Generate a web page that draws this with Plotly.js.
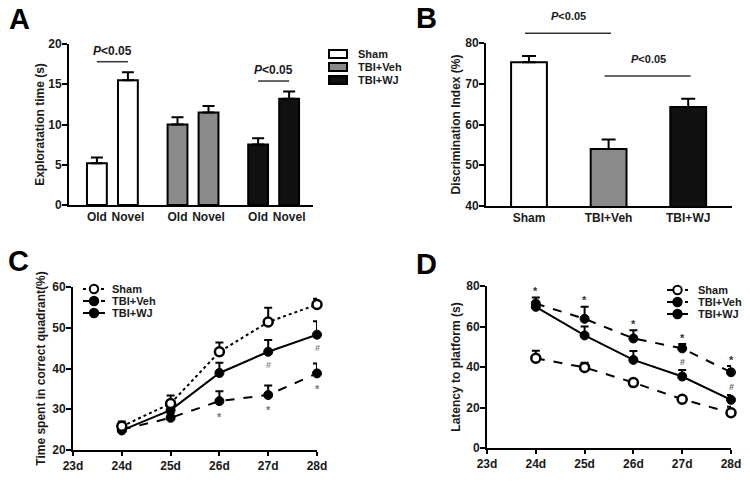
<!DOCTYPE html>
<html><head><meta charset="utf-8">
<script src="https://cdn.plot.ly/plotly-3.0.1.min.js"></script>
<style>html,body{margin:0;padding:0;background:#fff}#chart{width:750px;height:484px}</style>
</head><body><div id="chart"></div>
<script>
// ---------- Panel A data ----------
const aGroups = ['Sham', 'TBI+Veh', 'TBI+WJ'];
const aConds = ['Old', 'Novel'];
const aShamMean = [5.2, 15.5];
const aShamErr = [0.7, 1.0];
const aVehMean = [10.0, 11.5];
const aVehErr = [0.9, 0.8];
const aWjMean = [7.5, 13.2];
const aWjErr = [0.8, 0.9];
// ---------- Panel B data ----------
const bCats = ['Sham', 'TBI+Veh', 'TBI+WJ'];
const bMean = [75.3, 54.0, 64.3];
const bErr = [1.5, 2.3, 2.0];
// ---------- Panel C / D shared ----------
const days = [24, 25, 26, 27, 28];
const dayTickVals = [23, 24, 25, 26, 27, 28];
const dayTickText = ['23d', '24d', '25d', '26d', '27d', '28d'];
const seriesNames = ['Sham', 'TBI+Veh', 'TBI+WJ'];
// ---------- Panel C data ----------
const cShamMean = [25.8, 31.4, 44.1, 51.4, 55.7];
const cShamErr = [1.2, 2.0, 2.3, 3.5, 1.4];
const cVehMean = [25.0, 27.9, 32.0, 33.5, 38.8];
const cVehErr = [1.3, 1.0, 2.4, 2.3, 2.4];
const cWjMean = [24.8, 29.8, 38.9, 44.1, 48.3];
const cWjErr = [1.5, 2.0, 2.5, 2.9, 3.3];
const cStarDays = [26, 27, 28];
const cHashDays = [27, 28];
// ---------- Panel D data ----------
const dShamMean = [44.3, 39.8, 32.3, 24.1, 17.4];
const dShamErr = [3.7, 2.3, 1.3, 1.0, 3.0];
const dVehMean = [71.3, 63.8, 54.1, 49.2, 37.4];
const dVehErr = [3.0, 5.9, 4.1, 2.1, 3.1];
const dWjMean = [69.7, 55.6, 43.5, 35.3, 23.8];
const dWjErr = [2.5, 4.4, 4.4, 3.2, 2.4];
const dStarDays = [24, 25, 26, 27, 28];
const dHashDays = [27, 28];
const sigText = 'P<0.05';

// ---------- styling helpers ----------
const FAM = 'Liberation Sans, Arial, sans-serif';
const W = 750, H = 484;
const X = p => p / W;
const Y = p => 1 - p / H;
const tickFont = {family: FAM, size: 12, color: '#1a1a1a', weight: 'bold'};
const titleFont = {family: FAM, size: 12, color: '#1a1a1a', weight: 'bold'};
const colors = {'Sham': '#ffffff', 'TBI+Veh': '#8a8a8a', 'TBI+WJ': '#111111'};
const upErr = (err, w) => ({type: 'data', symmetric: false, array: err, arrayminus: err.map(() => 0),
  color: '#000', thickness: 2, width: w});

const GROUP_STEP = 2.6;
const aPos = g => aConds.map((c, i) => g * GROUP_STEP + i);
const aMeans = [aShamMean, aVehMean, aWjMean];
const aErrs = [aShamErr, aVehErr, aWjErr];

const traces = [];
aGroups.forEach((g, gi) => {
  traces.push({type: 'bar', x: aPos(gi), y: aMeans[gi], width: 0.64, name: g,
    marker: {color: colors[g], line: {color: '#000', width: 2}},
    error_y: upErr(aErrs[gi], 6), xaxis: 'x', yaxis: 'y', showlegend: false, hoverinfo: 'y'});
});
traces.push({type: 'bar', x: bCats.map((c, i) => i), y: bMean, width: 0.45,
  marker: {color: bCats.map(c => colors[c]), line: {color: '#000', width: 2}},
  error_y: upErr(bErr, 7), xaxis: 'x2', yaxis: 'y2', showlegend: false});

function lineTrace(x, y, err, dash, open, xa, ya, name) {
  return {type: 'scatter', mode: 'lines+markers', x: x, y: y, name: name, xaxis: xa, yaxis: ya,
    line: {color: '#000', width: 2, dash: dash},
    marker: {symbol: 'circle', size: 9, color: open ? '#fff' : '#000', line: {color: '#000', width: open ? 2.5 : 1}},
    error_y: upErr(err, 4), cliponaxis: false, showlegend: false};
}
traces.push(lineTrace(days, cVehMean, cVehErr, 'dash', false, 'x3', 'y3', 'TBI+Veh'));
traces.push(lineTrace(days, cWjMean, cWjErr, 'solid', false, 'x3', 'y3', 'TBI+WJ'));
traces.push(lineTrace(days, cShamMean, cShamErr, 'dot', true, 'x3', 'y3', 'Sham'));
traces.push(lineTrace(days, dVehMean, dVehErr, 'dash', false, 'x4', 'y4', 'TBI+Veh'));
traces.push(lineTrace(days, dWjMean, dWjErr, 'solid', false, 'x4', 'y4', 'TBI+WJ'));
traces.push(lineTrace(days, dShamMean, dShamErr, 'dash', true, 'x4', 'y4', 'Sham'));

// ---------- axes ----------
const baseAx = {showline: true, linewidth: 2, linecolor: '#000', showgrid: false, zeroline: false,
  tickfont: tickFont, fixedrange: true, ticks: 'outside', ticklen: 5, tickwidth: 2, tickcolor: '#000'};
const yExtra = {ticklabelstandoff: -2};
const layoutAxes = {
  xaxis: Object.assign({}, baseAx, {domain: [X(69), X(313)], range: [-0.9, 2 * GROUP_STEP + 1 + 0.77], anchor: 'y',
    tickvals: aGroups.flatMap((g, gi) => aPos(gi)), ticktext: aGroups.flatMap(() => aConds), ticks: ''}),
  yaxis: Object.assign({}, baseAx, yExtra, {domain: [Y(205), Y(44)], range: [0, 20], dtick: 5, anchor: 'x',
    title: {text: 'Exploratation time (s)', font: titleFont, standoff: 1}}),
  xaxis2: Object.assign({}, baseAx, {domain: [X(486), X(732)], range: [-0.54, 2.55], anchor: 'y2',
    tickvals: bCats.map((c, i) => i), ticktext: bCats, ticks: ''}),
  yaxis2: Object.assign({}, baseAx, yExtra, {domain: [Y(206), Y(43)], range: [40, 80], dtick: 10, anchor: 'x2',
    title: {text: 'Discrimination Index (%)', font: titleFont, standoff: 2}}),
  xaxis3: Object.assign({}, baseAx, {domain: [X(73), X(317)], range: [23, 28], anchor: 'y3',
    tickvals: dayTickVals, ticktext: dayTickText, ticklen: 4}),
  yaxis3: Object.assign({}, baseAx, yExtra, {domain: [Y(450), Y(287)], range: [20, 60], dtick: 10, anchor: 'x3',
    title: {text: 'Time spent in correct quadrant(%)', font: titleFont, standoff: 4}}),
  xaxis4: Object.assign({}, baseAx, {domain: [X(487), X(731)], range: [23, 28], anchor: 'y4',
    tickvals: dayTickVals, ticktext: dayTickText, ticklen: 4}),
  yaxis4: Object.assign({}, baseAx, yExtra, {domain: [Y(448), Y(286)], range: [0, 80], dtick: 20, anchor: 'x4',
    title: {text: 'Latency to platform (s)', font: titleFont, standoff: 3}}),
};

// ---------- annotations & shapes ----------
const shapes = [];
const annotations = [];
const sigFontA = {family: FAM, size: 12, color: '#1a1a1a', weight: 'bold'};
const sigFontB = {family: FAM, size: 11, color: '#1a1a1a', weight: 'bold'};
const sigLabel = '<i>P</i>' + sigText.slice(1).replace('<', '&lt;');

// Panel A significance: pairs within Sham and TBI+WJ
[0, 2].forEach(gi => {
  const pos = aPos(gi);
  const top = Math.max(...aMeans[gi].map((m, i) => m + aErrs[gi][i]));
  const yy = top + 1.3;
  shapes.push({type: 'line', xref: 'x', yref: 'y', x0: pos[0], x1: pos[1], y0: yy, y1: yy,
    line: {color: '#333', width: 1.5}});
  annotations.push({xref: 'x', yref: 'y', x: (pos[0] + pos[1]) / 2, y: yy, text: sigLabel, showarrow: false,
    yanchor: 'bottom', yshift: 2, font: sigFontA});
});
// Panel B significance (line may lie above the axis top, so map to paper)
const yb = layoutAxes.yaxis2;
const bToPaper = v => yb.domain[0] + (v - yb.range[0]) / (yb.range[1] - yb.range[0]) * (yb.domain[1] - yb.domain[0]);
[[0, 1], [1, 2]].forEach(([i, j]) => {
  const top = Math.max(bMean[i] + bErr[i], bMean[j] + bErr[j]);
  const yy = bToPaper(top + 5.6);
  shapes.push({type: 'line', xref: 'x2', yref: 'paper', x0: i - 0.05, x1: j + 0.03, y0: yy, y1: yy,
    line: {color: '#333', width: 1.5}});
  annotations.push({xref: 'x2', yref: 'paper', x: (i + j) / 2, y: yy, text: sigLabel, showarrow: false,
    yanchor: 'bottom', yshift: 9, font: sigFontB});
});
// Panel C marks: below points
const markFont = (c, s) => ({family: FAM, size: s, color: c, weight: 'bold'});
cStarDays.forEach(d => {
  const k = days.indexOf(d);
  annotations.push({xref: 'x3', yref: 'y3', x: d, y: cVehMean[k] - 3.8, text: '*', showarrow: false,
    yanchor: 'middle', font: markFont('#777', 11)});
});
cHashDays.forEach(d => {
  const k = days.indexOf(d);
  annotations.push({xref: 'x3', yref: 'y3', x: d, y: cWjMean[k] - 3.3, text: '#', showarrow: false,
    yanchor: 'middle', font: markFont('#888', 9)});
});
// Panel D marks: above error bars
dStarDays.forEach(d => {
  const k = days.indexOf(d);
  annotations.push({xref: 'x4', yref: 'y4', x: d, y: dVehMean[k] + dVehErr[k] + 3.2, text: '*', showarrow: false,
    yanchor: 'middle', font: markFont('#333', 11)});
});
dHashDays.forEach(d => {
  const k = days.indexOf(d);
  annotations.push({xref: 'x4', yref: 'y4', x: d, y: dWjMean[k] + dWjErr[k] + 3.8, text: '#', showarrow: false,
    yanchor: 'middle', font: markFont('#666', 9)});
});

// Panel letters
[['A', 7, 19], ['B', 414, 18], ['C', 6, 261], ['D', 414, 264]].forEach(([t, x, y]) => {
  annotations.push({xref: 'paper', yref: 'paper', x: X(x), y: Y(y), text: t, showarrow: false,
    xanchor: 'left', yanchor: 'middle', font: {family: FAM, size: 29, color: '#000', weight: 'bold'}});
});

// Legend A (boxes)
const legFont = {family: FAM, size: 11, color: '#1a1a1a', weight: 'bold'};
const aLegRows = [54, 67, 80];
aGroups.forEach((g, i) => {
  const yc = aLegRows[i];
  shapes.push({type: 'rect', xref: 'paper', yref: 'paper', x0: X(329), x1: X(347), y0: Y(yc + 4), y1: Y(yc - 4),
    fillcolor: colors[g], line: {color: '#000', width: 2}});
  annotations.push({xref: 'paper', yref: 'paper', x: X(356), y: Y(yc), text: g, showarrow: false,
    xanchor: 'left', yanchor: 'middle', font: legFont});
});
// Legends C and D (line + marker)
function lineLegend(x0, x1, textX, rows, dashes) {
  seriesNames.forEach((s, i) => {
    const yc = rows[i];
    shapes.push({type: 'line', xref: 'paper', yref: 'paper', x0: X(x0), x1: X(x1), y0: Y(yc), y1: Y(yc),
      line: {color: '#000', width: 2, dash: dashes[i]}});
    const open = s === 'Sham';
    shapes.push({type: 'circle', xref: 'paper', yref: 'paper', xsizemode: 'pixel', ysizemode: 'pixel',
      xanchor: X((x0 + x1) / 2), yanchor: Y(yc), x0: -4.2, x1: 4.2, y0: -4.2, y1: 4.2,
      fillcolor: open ? '#fff' : '#000', line: {color: '#000', width: 2}});
    annotations.push({xref: 'paper', yref: 'paper', x: X(textX), y: Y(yc), text: s, showarrow: false,
      xanchor: 'left', yanchor: 'middle', font: legFont});
  });
}
lineLegend(83, 105, 110, [289, 301, 313], ['dot', 'dash', 'solid']);
lineLegend(667, 688, 696, [290, 302, 314], ['dash', 'dash', 'solid']);

const layout = Object.assign({
  width: W, height: H, margin: {l: 0, r: 0, t: 0, b: 0},
  paper_bgcolor: '#fff', plot_bgcolor: 'rgba(0,0,0,0)',
  showlegend: false, bargap: 0, font: {family: FAM, color: '#1a1a1a'},
  shapes: shapes, annotations: annotations
}, layoutAxes);

Plotly.newPlot('chart', traces, layout, {displayModeBar: false, staticPlot: true});
</script>
</body></html>
